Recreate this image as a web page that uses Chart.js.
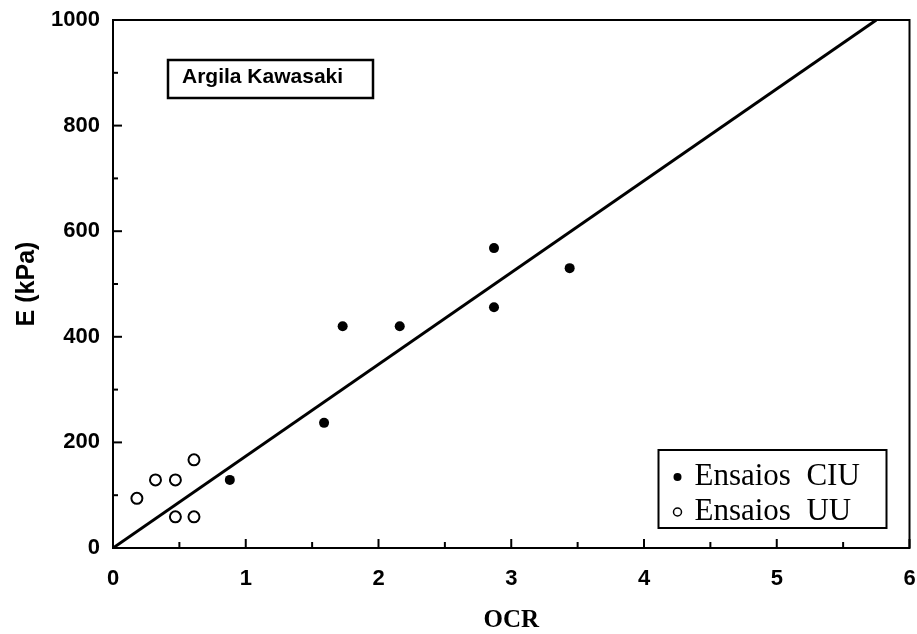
<!DOCTYPE html>
<html>
<head>
<meta charset="utf-8">
<script src="https://cdn.jsdelivr.net/npm/chart.js@4/dist/chart.umd.min.js"></script>
<style>
  html, body { margin: 0; padding: 0; background: #fff; }
  #wrap { width: 917px; height: 634px; }
</style>
</head>
<body>
<div id="wrap"><canvas id="c"></canvas></div>
<script>
// Ensaios CIU (filled points)
const ciuOCR = [0.88, 1.59, 1.73, 2.16, 2.87, 2.87, 3.44];
const ciuE   = [129, 237, 420, 420, 568, 456, 530];
// Ensaios UU (open points)
const uuOCR = [0.18, 0.32, 0.47, 0.61, 0.47, 0.61];
const uuE   = [94, 129, 129, 167, 59, 59];
// Fitted line E vs OCR
const fitOCR = [0, 5.75];
const fitE   = [0, 1000];
// Labelled ticks
const xTickLabels = [0, 1, 2, 3, 4, 5, 6];
const yTickLabels = [0, 200, 400, 600, 800, 1000];

const toPoints = (xs, ys) => xs.map((x, i) => ({ x: x, y: ys[i] }));

const SANS = "'Liberation Sans', Arial, sans-serif";
const SERIF = "'Liberation Serif', 'Times New Roman', serif";

// Frame, inward tick marks, legend box and the clay label box
const decor = {
  id: 'decor',
  beforeDatasetsDraw(chart) {
    const { ctx, chartArea: a, scales: { x, y } } = chart;
    ctx.save();
    ctx.strokeStyle = '#000';
    ctx.lineWidth = 2;
    ctx.strokeRect(a.left, a.top, a.right - a.left, a.bottom - a.top);
    x.ticks.forEach(t => {
      const px = x.getPixelForValue(t.value);
      const len = xTickLabels.includes(t.value) ? 9 : 6;
      ctx.beginPath();
      ctx.moveTo(px, a.bottom);
      ctx.lineTo(px, a.bottom - len);
      ctx.stroke();
    });
    y.ticks.forEach(t => {
      const py = y.getPixelForValue(t.value);
      const len = yTickLabels.includes(t.value) ? 9 : 5;
      ctx.beginPath();
      ctx.moveTo(a.left, py);
      ctx.lineTo(a.left + len, py);
      ctx.stroke();
    });
    ctx.restore();
  },
  afterDraw(chart) {
    const { ctx, chartArea: a } = chart;
    ctx.save();
    // Title box
    const bx = a.left + 55, by = a.top + 40, bw = 205, bh = 38;
    ctx.fillStyle = '#fff';
    ctx.fillRect(bx, by, bw, bh);
    ctx.strokeStyle = '#000';
    ctx.lineWidth = 2.5;
    ctx.strokeRect(bx, by, bw, bh);
    ctx.fillStyle = '#000';
    ctx.font = 'bold 21px ' + SANS;
    ctx.textAlign = 'left';
    ctx.textBaseline = 'middle';
    ctx.fillText('Argila Kawasaki', bx + 14, by + bh / 2 - 2);

    // Legend box
    const lw = 228, lh = 78;
    const lx = a.right - 23 - lw, ly = a.bottom - 20 - lh;
    ctx.fillStyle = '#fff';
    ctx.fillRect(lx, ly, lw, lh);
    ctx.lineWidth = 2;
    ctx.strokeRect(lx, ly, lw, lh);
    const ds = chart.data.datasets;
    const rows = [ds[1], ds[2]];
    ctx.font = '31px ' + SERIF;
    ctx.textBaseline = 'alphabetic';
    rows.forEach((d, i) => {
      const baseY = ly + 35 + i * 35;
      const my = baseY - 8;
      ctx.beginPath();
      ctx.arc(lx + 19, my, 4, 0, Math.PI * 2);
      if (d.backgroundColor === '#000') {
        ctx.fillStyle = '#000';
        ctx.fill();
      } else {
        ctx.lineWidth = 1.5;
        ctx.stroke();
      }
      ctx.fillStyle = '#000';
      ctx.fillText(d.label, lx + 36, baseY);
    });
    ctx.restore();
  }
};

new Chart(document.getElementById('c'), {
  type: 'scatter',
  data: {
    datasets: [
      {
        label: 'Ajuste',
        data: toPoints(fitOCR, fitE),
        showLine: true,
        borderColor: '#000',
        borderWidth: 3,
        pointRadius: 0,
        fill: false
      },
      {
        label: 'Ensaios  CIU',
        data: toPoints(ciuOCR, ciuE),
        backgroundColor: '#000',
        borderColor: '#000',
        pointRadius: 5,
        borderWidth: 0
      },
      {
        label: 'Ensaios  UU',
        data: toPoints(uuOCR, uuE),
        backgroundColor: '#fff',
        borderColor: '#000',
        pointRadius: 5.5,
        borderWidth: 2
      }
    ]
  },
  options: {
    responsive: true,
    maintainAspectRatio: false,
    animation: false,
    layout: { padding: { top: 20, right: 4, left: 0, bottom: 0 } },
    plugins: { legend: { display: false }, tooltip: { enabled: false } },
    scales: {
      x: {
        type: 'linear',
        min: 0, max: 6,
        grid: { display: false, drawTicks: false },
        border: { display: false },
        ticks: {
          stepSize: 0.5,
          padding: 18,
          color: '#000',
          font: { family: SANS, weight: 'bold', size: 22 },
          maxRotation: 0,
          autoSkip: false,
          callback: v => xTickLabels.includes(v) ? String(v) : ''
        },
        title: {
          display: true,
          text: 'OCR',
          color: '#000',
          font: { family: SERIF, weight: 'bold', size: 25, lineHeight: 1 },
          padding: { top: 0, bottom: 1 }
        },
        afterFit: s => { s.height = 86; s.paddingLeft = 0; s.paddingRight = 0; }
      },
      y: {
        type: 'linear',
        min: 0, max: 1000,
        grid: { display: false, drawTicks: false },
        border: { display: false },
        ticks: {
          stepSize: 100,
          padding: 13,
          color: '#000',
          font: { family: SANS, weight: 'bold', size: 22 },
          autoSkip: false,
          callback: v => yTickLabels.includes(v) ? String(v) : ''
        },
        title: {
          display: true,
          text: 'E (kPa)',
          color: '#000',
          font: { family: SANS, weight: 'bold', size: 25, lineHeight: 1 },
          padding: { top: 15, bottom: 0 }
        },
        afterFit: s => { s.width = 113; s.paddingTop = 0; s.paddingBottom = 0; }
      }
    }
  },
  plugins: [decor]
});
</script>
</body>
</html>
